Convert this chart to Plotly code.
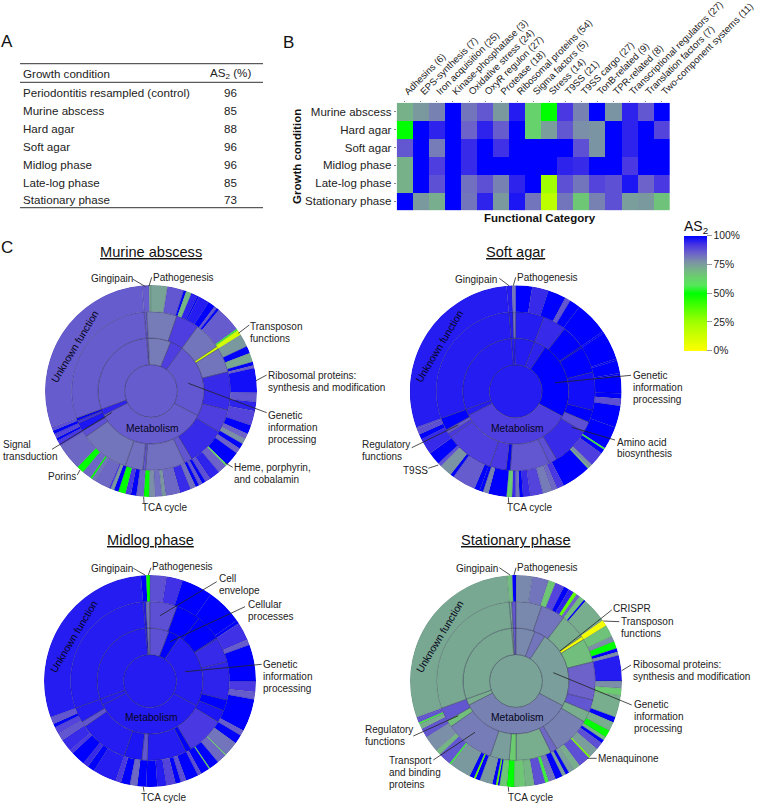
import numpy as np
import plotly.graph_objects as go

W, H = 758, 804
FONT = "Liberation Sans, Arial, sans-serif"
INK = "#222222"

# ---------- Panel A ----------
table_conditions = ["Periodontitis resampled (control)", "Murine abscess", "Hard agar", "Soft agar",
                    "Midlog phase", "Late-log phase", "Stationary phase"]
table_as2 = [96, 85, 88, 96, 96, 85, 73]

# ---------- Panel B ----------
heat_rows = ["Murine abscess", "Hard agar", "Soft agar", "Midlog phase", "Late-log phase", "Stationary phase"]
heat_cols = ["Adhesins (6)", "EPS-synthesis (7)", "Iron acquisition (25)", "Kinase-phosphatase (3)",
             "Oxidative stress (24)", "OxyR regulon (27)", "Protease (18)", "Ribosomal proteins (54)",
             "Sigma factors (5)", "Stress (14)", "T9SS (21)", "T9SS cargo (27)", "TonB-related (9)",
             "TPR-related (8)", "Transcriptional regulators (27)", "Translation factors (7)",
             "Two-component systems (11)"]
heat_murine = [71, 76, 80, 100, 82, 87, 76, 96, 63, 50, 92, 80, 100, 77, 95, 87, 100]
heat_hard = [50, 100, 95, 100, 85, 95, 86, 100, 63, 75, 87, 78, 77, 100, 95, 100, 90]
heat_soft = [87, 100, 81, 100, 94, 100, 93, 100, 100, 100, 100, 88, 77, 100, 95, 100, 100]
heat_midlog = [71, 100, 91, 100, 94, 100, 100, 100, 100, 100, 95, 94, 100, 100, 92, 100, 100]
heat_late = [71, 100, 88, 100, 83, 88, 80, 95, 100, 25, 88, 82, 90, 88, 97, 85, 92]
heat_stationary = [100, 76, 72, 100, 82, 95, 76, 97, 82, 18, 82, 66, 80, 88, 75, 76, 67]

# ---------- Panel C: ring segments as (cumulative clockwise share in degrees, AS2 %) ----------
start_share = -5

murine_r1 = [(355, 86)]
murine_r2 = [(-3, 86), (22, 81), (36, 91), (118, 87), (243, 86), (250, 95), (355, 86)]
murine_r3 = [(-3, 86), (19, 81), (36, 91), (56, 82), (58, 12), (76, 82), (104, 94), (121, 91), (149, 94), (155, 87),
             (184, 83), (186, 87), (199, 83), (235, 82), (240, 88), (246, 97), (248, 93), (250, 100), (355, 86)]
murine_r4 = [
    (-1, 86), (0, 72), (9, 74), (18, 87), (19.5, 100), (22.5, 70), (26, 95), (27, 100), (33, 96), (37, 100),
    (38.5, 87), (40, 100), (54, 86), (55, 55), (58, 12), (65, 76), (69, 100), (74, 73), (76, 100), (77.5, 85),
    (91, 98), (96, 87), (101, 95), (109, 90), (114, 100), (117, 85), (120, 78), (123, 100), (126, 85), (134, 100),
    (135, 60), (140, 85), (146, 95), (149, 88), (151, 100), (153, 87), (155, 100), (158, 83), (164, 94), (172, 84),
    (174, 76), (178, 83), (181, 78), (184, 50), (188, 84), (191, 100), (194, 92), (198, 50), (200.5, 100),
    (202.5, 76), (203.5, 92), (212, 84), (214, 82), (215, 50), (220, 84), (224, 50), (239, 84), (242, 92),
    (243.5, 100), (246, 90), (248, 100), (250, 88), (355, 86)]

soft_r1 = [(355, 96)]
soft_r2 = [(-1, 96), (21, 96), (34, 95), (118, 100), (243, 91), (250, 96), (355, 96)]
soft_r3 = [(-2, 96), (0, 82), (21, 96), (38, 94), (55.5, 100), (56.5, 100), (76, 100), (104, 98), (113, 100),
           (121, 88), (149, 94), (155, 88), (184, 87), (187, 100), (199, 92), (235, 91), (238, 92), (241, 86),
           (250, 100), (355, 96)]
soft_r4 = [(-2, 96), (0, 82), (9, 100), (18, 94), (28, 100), (31, 87), (37, 100), (55.5, 100), (56.5, 100),
           (72, 100), (73, 100), (80, 100), (81, 100), (91, 100), (94, 100), (98, 88), (110, 100), (122.5, 100),
           (123.5, 55), (126, 100), (134, 91), (136, 78), (137, 70), (153, 100), (157, 92), (160, 84), (165, 81),
           (172, 90), (176, 94), (178, 100), (180, 82), (182, 94), (185, 65), (195, 100), (198, 80), (200, 100),
           (203, 100), (216, 86), (218, 100), (225, 77), (227, 88), (234, 100), (243, 94), (246, 100), (249, 88),
           (250, 88), (355, 96)]

midlog_r1 = [(355, 96)]
midlog_r2 = [(-3, 96), (0, 82), (21, 88), (34, 100), (118, 96), (243, 96), (250, 96), (355, 96)]
midlog_r3 = [(-3, 96), (0, 82), (20, 88), (38, 100), (57, 100), (58, 97), (76, 94), (104, 95), (112, 100),
             (121, 97), (149, 92), (153, 100), (182, 96), (186, 87), (199, 97), (235, 96), (239, 87), (250, 96),
             (355, 96)]
midlog_r4 = [(-2, 100), (0, 50), (9, 88), (18, 93), (35, 100), (55, 100), (57, 100), (67, 93), (70, 86), (90, 100),
             (96, 92), (100, 86), (118, 100), (121, 86), (126, 100), (134, 82), (134.6, 60), (140, 84), (145.5, 100),
             (146.2, 60), (151, 100), (153, 88), (160, 100), (163, 88), (166, 100), (171, 90), (176, 96), (182, 100),
             (187, 100), (191, 84), (196, 100), (199, 92), (212, 96), (216, 100), (219, 94), (227, 100), (229, 92),
             (236, 94), (240, 87), (244, 90), (246, 100), (250, 87), (355, 96)]

station_r1 = [(355, 74)]
station_r2 = [(-3, 74), (0, 86), (21, 79), (33, 82), (118, 75), (243, 80), (250, 72), (355, 73)]
station_r3 = [(-3, 74), (0, 87), (19, 79), (37, 82), (56, 72), (58.5, 3), (76, 68), (104, 85), (113, 87), (121, 72),
              (149, 80), (154, 84), (180, 72), (185, 65), (199, 75), (235, 81), (240, 68), (250, 87), (355, 73)]
station_r4 = [(-2, 68), (0, 100), (9, 79), (18, 82), (22, 66), (27, 90), (30, 100), (33, 95), (35, 35), (37, 85),
              (40, 68), (41, 100), (55, 72), (58.5, 3), (65, 67), (68, 78), (72, 50), (74, 100), (76, 78), (90, 96),
              (94, 78), (98, 65), (110, 72), (113, 100), (118, 72), (122, 50), (124, 70), (126, 100), (130, 88),
              (135.5, 75), (136.5, 30), (143, 88), (147, 72), (150, 75), (152, 100), (154, 75), (158, 100),
              (162, 82), (164, 55), (170, 88), (175, 70), (181, 66), (185, 50), (189, 66), (190, 100), (191, 35),
              (193, 100), (200, 76), (202.5, 100), (203.5, 35), (206, 100), (218, 76), (219, 55), (226, 87),
              (229, 70), (238, 78), (243, 87), (246, 72), (247, 55), (249, 87), (250, 87), (355, 73)]

sun_charts = [
    ("Murine abscess", 151, 391, [murine_r1, murine_r2, murine_r3, murine_r4]),
    ("Soft agar", 515.7, 391.3, [soft_r1, soft_r2, soft_r3, soft_r4]),
    ("Midlog phase", 150, 681, [midlog_r1, midlog_r2, midlog_r3, midlog_r4]),
    ("Stationary phase", 516, 681, [station_r1, station_r2, station_r3, station_r4]),
]
R = 106.0

AS2_SCALE = [[0, "#ffff00"], [0.25, "#a0ff00"], [0.5, "#00ff00"], [0.57, "#55e85a"], [0.65, "#6ccb70"],
             [0.72, "#78ad8e"], [0.78, "#7b8fa8"], [0.85, "#6c62ca"], [0.92, "#4a38e2"], [1, "#0000ff"]]


def px(x):
    return x / W


def py(y):
    return 1 - y / H


fig = go.Figure()

# heatmap
fig.add_trace(go.Heatmap(z=[heat_murine, heat_hard, heat_soft, heat_midlog, heat_late, heat_stationary],
                         x=heat_cols, y=heat_rows, coloraxis="coloraxis", xgap=0, ygap=0, hoverongaps=False))

# sunbursts
for i, (name, cx, cy, rings) in enumerate(sun_charts):
    pid = "polar" if i == 0 else f"polar{i+1}"
    for ring, segs in enumerate(rings):
        cum = [e for e, _ in segs]
        vals = [v for _, v in segs]
        edges = np.array([start_share] + cum, dtype=float)
        widths = np.diff(edges)
        thetas = edges[:-1] + widths / 2
        outer = ring == 3
        fig.add_trace(go.Barpolar(
            theta=thetas, width=widths, r=np.ones(len(widths)), base=np.full(len(widths), float(ring)),
            marker=dict(color=vals, coloraxis="coloraxis",
                        line=dict(width=0.25 if outer else 0.6,
                                  color="rgba(0,0,50,0.45)" if outer else "rgba(40,40,70,0.6)")),
            subplot=pid, showlegend=False))
    fig.update_layout({pid: dict(
        domain=dict(x=[px(cx - R), px(cx + R)], y=[py(cy + R), py(cy - R)]),
        bgcolor="rgba(0,0,0,0)",
        radialaxis=dict(visible=False, range=[0, 4]),
        angularaxis=dict(visible=False, rotation=90, direction="clockwise"),
        bargap=0, barmode="overlay")})

ann = []
shp = []


def text(x, y, s, size=11.6, anchor="left", **kw):
    ann.append(dict(x=px(x), y=py(y), xref="paper", yref="paper", text=s, showarrow=False, xanchor=anchor,
                    yanchor="middle", borderpad=0, borderwidth=0,
                    font=dict(family=FONT, size=size, color=kw.pop("color", INK)), **kw))


def lines(x, ys, rows, size=10):
    for y, r in zip(ys, rows):
        text(x, y, r, size=size)


def seg(x0, y0, x1, y1, w=0.8, c="#222222"):
    shp.append(dict(type="line", xref="paper", yref="paper", x0=px(x0), y0=py(y0), x1=px(x1), y1=py(y1),
                    line=dict(color=c, width=w)))


# Panel letters
text(1, 41, "A", size=17, color="#111")
text(283, 42, "B", size=17, color="#111")
text(1, 248, "C", size=17, color="#111")

# Table
seg(20, 63.7, 263, 63.7, 1, "#333")
seg(20, 82.3, 263, 82.3, 1, "#333")
seg(20, 207.7, 263, 207.7, 1, "#333")
text(22.7, 74, "Growth condition")
text(230, 74, "AS<sub>2</sub> (%)", anchor="center")
for k, (c, v) in enumerate(zip(table_conditions, table_as2)):
    y = 92.5 + k * 17.9
    text(22.7, y, c)
    text(230, y, str(v), anchor="center")

# Heatmap titles
text(540, 218.5, "<b>Functional Category</b>", size=11.5, anchor="center", color="#111")
text(297, 157, "<b>Growth condition</b>", size=11.5, anchor="center", textangle=-90, color="#111")

# Sunburst titles & common labels
for name, cx, cy, rings in sun_charts:
    text(cx, cy - 139 if cy < 500 else cy - 141, f"<u>{name}</u>", size=14.6, anchor="center", color="#111")
    text(cx - 76, cy - 44.5, "Unknown function", size=10.3, anchor="center", textangle=-59, color="#05051a")
    text(cx + 1.5, cy + 36 if cy > 500 else cy + 37, "Metabolism", size=10.3, anchor="center", color="#05051a")

# Murine labels
lines(91, [279], ["Gingipain"]); seg(133, 279.3, 145.7, 286.7)
lines(153, [277.7], ["Pathogenesis"]); seg(151.7, 277.3, 149, 286)
lines(250, [326.7, 338.7], ["Transposon", "functions"]); seg(249.3, 325, 238.3, 333.3)
lines(267.7, [375, 387], ["Ribosomal proteins:", "synthesis and modification"]); seg(266.7, 375, 256, 380.7)
lines(268, [415.7, 427.7, 439.7], ["Genetic", "information", "processing"]); seg(266.7, 412.7, 188.3, 383.3)
lines(233.7, [467, 479], ["Heme, porphyrin,", "and cobalamin"]); seg(232.7, 467.3, 225, 462.7)
lines(142, [507], ["TCA cycle"]); seg(143.7, 496.7, 144, 503)
lines(48, [476], ["Porins"]); seg(77.3, 475, 80, 470)
lines(3, [444.3, 456.7], ["Signal", "transduction"]); seg(52, 449.3, 111.7, 412.7)

# Soft agar labels
lines(455, [279.3], ["Gingipain"]); seg(499.3, 278.3, 509, 285.7)
lines(516.7, [277.7], ["Pathogenesis"]); seg(515.7, 277.3, 513.3, 285.7)
lines(633, [375.7, 387.7, 399.7], ["Genetic", "information", "processing"]); seg(631, 375.3, 555, 382.7)
lines(616.7, [442, 453.7], ["Amino acid", "biosynthesis"]); seg(615, 440, 571.7, 427.3)
lines(361.7, [444.3, 456], ["Regulatory", "functions"]); seg(411.7, 447.7, 458.3, 425)
lines(403.3, [470.7], ["T9SS"]); seg(428.3, 468.3, 438.3, 465)
lines(507.3, [507.5], ["TCA cycle"]); seg(508.3, 497.3, 508.7, 503)

# Midlog labels
lines(90.7, [568.7], ["Gingipain"]); seg(133.3, 568.3, 145, 575)
lines(152.3, [566.7], ["Pathogenesis"]); seg(151, 567.7, 148.3, 575)
lines(219.3, [578.3, 590.3], ["Cell", "envelope"]); seg(216.7, 581.7, 160, 615.7)
lines(247.7, [604.7, 616.7], ["Cellular", "processes"]); seg(245, 606.7, 170, 641.7)
lines(263.3, [664.3, 676.3, 688.3], ["Genetic", "information", "processing"]); seg(261.7, 664.3, 185, 671.7)
lines(141, [797.3], ["TCA cycle"]); seg(143.3, 786.7, 144, 791.7)

# Stationary labels
lines(456, [568.7], ["Gingipain"]); seg(499.3, 567.7, 510, 575)
lines(517.3, [567], ["Pathogenesis"]); seg(516, 567.7, 514, 575)
lines(613.3, [608], ["CRISPR"]); seg(611.7, 610, 560, 651)
lines(621, [621, 633], ["Transposon", "functions"]); seg(619.3, 621.7, 603.3, 621)
lines(632.7, [664.7, 676.7], ["Ribosomal proteins:", "synthesis and modification"]); seg(631, 665, 621.7, 670.7)
lines(634.3, [704.7, 716.7, 728.7], ["Genetic", "information", "processing"]); seg(631.7, 705, 553.3, 672.7)
lines(597.7, [758.7], ["Menaquinone"]); seg(596.7, 758.3, 587.3, 758.3)
lines(365, [729.7, 741.7], ["Regulatory", "functions"]); seg(413.3, 736, 458.3, 715.7)
lines(389, [760, 772, 784], ["Transport", "and binding", "proteins"]); seg(433.3, 760, 475, 732.3)
lines(507.7, [797.3], ["TCA cycle"]); seg(508.3, 786.7, 508.7, 791.7)

# colorbar title
text(695.5, 226.5, "AS<sub>2</sub>", size=14, anchor="center", color="#111")

fig.update_layout(
    width=W, height=H, margin=dict(l=0, r=0, t=0, b=0, autoexpand=False), paper_bgcolor="white", plot_bgcolor="white",
    showlegend=False, font=dict(family=FONT, color=INK, size=11.5),
    annotations=ann, shapes=shp,
    xaxis=dict(domain=[px(396.7), px(670)], side="top", tickangle=-45, ticks="outside", ticklen=1,
               tickcolor="#888", tickwidth=1, showgrid=False, zeroline=False, showline=False, dtick=1,
               tickfont=dict(family=FONT, size=9.6, color=INK), anchor="y"),
    yaxis=dict(domain=[py(210.2), py(102.7)], autorange="reversed", ticks="outside", ticklen=2, tickcolor="#888",
               tickwidth=1, showgrid=False, zeroline=False, showline=False, dtick=1,
               tickfont=dict(family=FONT, size=11.5, color=INK), anchor="x"),
    coloraxis=dict(cmin=0, cmax=100, colorscale=AS2_SCALE,
                   colorbar=dict(x=px(684), xanchor="left", y=py(235.7), yanchor="top", lenmode="pixels", len=115,
                                 thicknessmode="pixels", thickness=23, outlinewidth=0, borderwidth=0, xpad=0, ypad=0,
                                 tickmode="array", tickvals=[0, 25, 50, 75, 100],
                                 ticktext=["0%", "25%", "50%", "75%", "100%"], ticks="outside", ticklen=5,
                                 tickcolor="#999", tickwidth=1,
                                 tickfont=dict(family=FONT, size=10.3, color=INK))),
)

fig.write_html("out.html", config={"displayModeBar": False}, post_script="document.body.style.margin='0';")
